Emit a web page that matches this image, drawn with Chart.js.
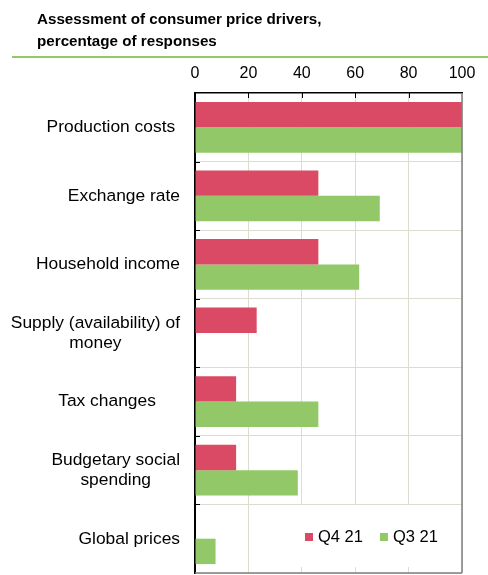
<!DOCTYPE html>
<html><head><meta charset="utf-8">
<script src="https://cdn.jsdelivr.net/npm/chart.js@4.4.0/dist/chart.umd.min.js"></script>
<style>html,body{margin:0;padding:0;background:#fff}</style>
</head><body>
<canvas id="c" width="488" height="575"></canvas>
<script>
const categories = [["Production costs "],["Exchange rate"],["Household income"],["Supply (availability) of","money"],["Tax changes     "],["Budgetary social","spending"],["Global prices"]];
const seriesNames = ["Q4 21","Q3 21"];
const q4_21 = [100,46.2,46.2,23.1,15.4,15.4,0];
const q3_21 = [100,69.2,61.5,0,46.2,38.5,7.7];
const xTicks = [0,20,40,60,80,100];
const titleLines = ["Assessment of consumer price drivers,","percentage of responses"];
const colors = ["#da4a64","#92c868"];
const FONT = "'Liberation Sans', Arial, sans-serif";

const decor = {
  id: 'decor',
  afterDraw(chart) {
    const ctx = chart.ctx, a = chart.chartArea;
    const xs = chart.scales.x, ys = chart.scales.y;
    ctx.save();
    // green rule under title
    ctx.strokeStyle = '#92c868'; ctx.lineWidth = 2;
    ctx.beginPath(); ctx.moveTo(12, 57); ctx.lineTo(488, 57); ctx.stroke();
    // right and bottom borders
    ctx.strokeStyle = '#7f7f7f'; ctx.lineWidth = 1.5;
    ctx.beginPath(); ctx.moveTo(a.right, a.top); ctx.lineTo(a.right, a.bottom);
    ctx.moveTo(a.left, a.bottom); ctx.lineTo(a.right, a.bottom); ctx.stroke();
    // inner tick marks
    ctx.strokeStyle = '#000'; ctx.lineWidth = 1;
    ctx.beginPath();
    xTicks.forEach(v => { if (v > xs.min && v < xs.max) { const x = Math.round(xs.getPixelForValue(v)) + 0.5; ctx.moveTo(x, a.top); ctx.lineTo(x, a.top + 5); } });
    for (let i = 1; i < categories.length; i++) {
      const y = Math.round((ys.getPixelForValue(i - 1) + ys.getPixelForValue(i)) / 2) + 0.5;
      ctx.moveTo(a.left, y); ctx.lineTo(a.left + 5, y);
    }
    ctx.stroke();
    // category labels: block right-aligned, lines centred within block
    ctx.fillStyle = '#000'; ctx.font = '17.4px ' + FONT;
    ctx.textBaseline = 'middle'; ctx.textAlign = 'center';
    const rightX = 180, lh = 20;
    categories.forEach((lines, i) => {
      const yc = ys.getPixelForValue(i);
      const w = Math.max(...lines.map(l => ctx.measureText(l).width));
      const cx = rightX - w / 2;
      lines.forEach((l, j) => ctx.fillText(l, cx, yc + (j - (lines.length - 1) / 2) * lh));
    });
    // legend
    ctx.fillStyle = '#fff';
    ctx.fillRect(291, 505, 155, 62);
    ctx.font = '16.5px ' + FONT; ctx.textAlign = 'left';
    let lx = 305; const ly = 537;
    chart.data.datasets.forEach(ds => {
      ctx.fillStyle = ds.backgroundColor;
      ctx.fillRect(lx, ly - 4, 8, 8);
      ctx.fillStyle = '#000';
      ctx.fillText(ds.label, lx + 13, ly);
      lx += 13 + ctx.measureText(ds.label).width + 17;
    });
    ctx.restore();
  }
};

new Chart(document.getElementById('c'), {
  type: 'bar',
  data: {
    labels: categories,
    datasets: [
      { label: seriesNames[0], data: q4_21, backgroundColor: colors[0] },
      { label: seriesNames[1], data: q3_21, backgroundColor: colors[1] }
    ]
  },
  options: {
    indexAxis: 'y',
    responsive: false,
    animation: false,
    devicePixelRatio: 1,
    categoryPercentage: 0.74,
    barPercentage: 1.0,
    layout: { padding: { left: 37, right: 26, top: 0, bottom: 2 } },
    plugins: {
      legend: { display: false },
      tooltip: { enabled: false },
      title: {
        display: true, text: titleLines, align: 'start', color: '#000',
        font: { family: FONT, size: 15.2, weight: 'bold', lineHeight: 1.447 },
        padding: { top: 9, bottom: 5 }
      }
    },
    scales: {
      x: {
        position: 'top', min: 0, max: 100,
        afterBuildTicks: s => { s.ticks = xTicks.map(v => ({ value: v })); },
        ticks: { color: '#000', font: { family: FONT, size: 16 }, padding: 10 },
        grid: { color: '#dcdcd0', drawTicks: false, lineWidth: 1 },
        border: { color: '#000', width: 1.5 },
        afterFit: s => { s.height = 35; }
      },
      y: {
        ticks: { display: false },
        grid: { color: '#dcdcd0', drawTicks: false, offset: true },
        border: { color: '#000', width: 2 },
        afterFit: s => { s.width = 158; }
      }
    }
  },
  plugins: [decor]
});
</script>
</body></html>
